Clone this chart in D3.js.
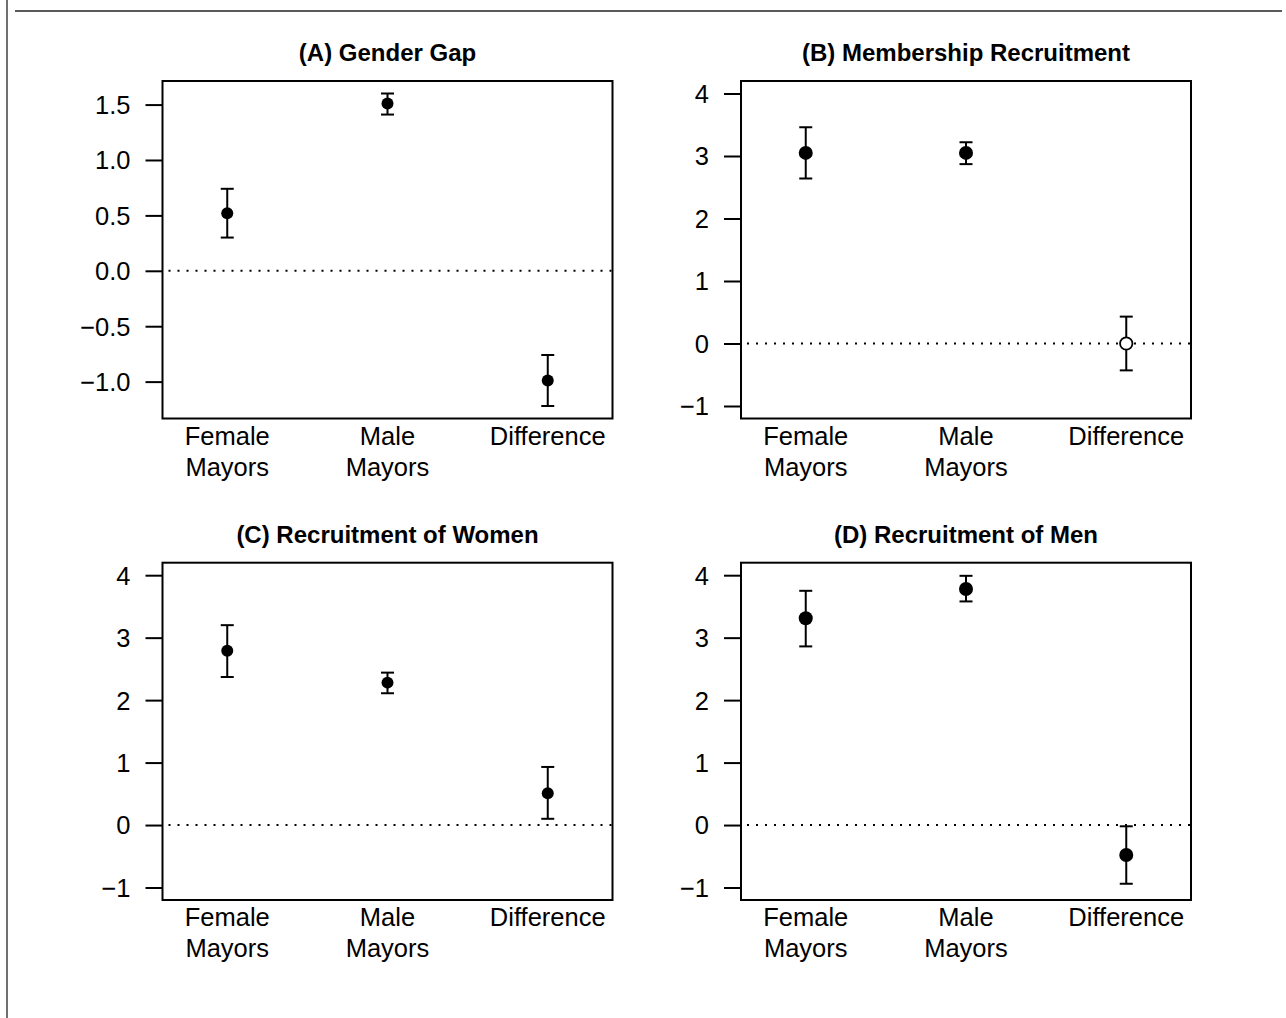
<!DOCTYPE html>
<html>
<head>
<meta charset="utf-8">
<script src="https://cdn.jsdelivr.net/npm/d3@7"></script>
<style>
  html, body { margin: 0; padding: 0; background: #fff; }
  svg { display: block; }
  text { font-family: "Liberation Sans", Arial, Helvetica, sans-serif; fill: #000; }
</style>
</head>
<body>
<svg id="chart" width="1286" height="1018"></svg>
<script>
// Group labels along the x axis (two lines each)
const categories = [["Female", "Mayors"], ["Male", "Mayors"], ["Difference"]];
const categoryIndex = [1, 2, 3];

// Panel titles
const panelTitles = [
  "(A) Gender Gap",
  "(B) Membership Recruitment",
  "(C) Recruitment of Women",
  "(D) Recruitment of Men"
];

// Point estimates and 95% confidence bounds per panel
const gapEst   = [0.52, 1.51, -0.99];
const gapLow   = [0.30, 1.41, -1.22];
const gapHigh  = [0.74, 1.60, -0.76];

const memberEst  = [3.05, 3.05, 0.00];
const memberLow  = [2.64, 2.87, -0.43];
const memberHigh = [3.46, 3.22, 0.43];

const womenEst  = [2.79, 2.28, 0.51];
const womenLow  = [2.37, 2.11, 0.10];
const womenHigh = [3.20, 2.44, 0.93];

const menEst  = [3.31, 3.78, -0.48];
const menLow  = [2.86, 3.58, -0.94];
const menHigh = [3.75, 3.99, -0.02];

// Whether the interval excludes zero (filled) or not (open)
const memberSignificant = [true, true, false];
const allSignificant = [true, true, true];

// Y-axis ticks
const gapTicks = [1.5, 1.0, 0.5, 0.0, -0.5, -1.0];
const gapTickLabels = ["1.5", "1.0", "0.5", "0.0", "\u22120.5", "\u22121.0"];
const countTicks = [4, 3, 2, 1, 0, -1];
const countTickLabels = ["4", "3", "2", "1", "0", "\u22121"];

// Axis limits before the usual 4% padding
const xLimits = [0.7, 3.3];
const countLimits = [-1, 4];

const panels = [
  { title: panelTitles[0], est: gapEst, low: gapLow, high: gapHigh, sig: allSignificant,
    ticks: gapTicks, tickLabels: gapTickLabels, ylim: null,
    box: { left: 162.5, right: 612.5, top: 81, bottom: 418.5 }, r: 6 },
  { title: panelTitles[1], est: memberEst, low: memberLow, high: memberHigh, sig: memberSignificant,
    ticks: countTicks, tickLabels: countTickLabels, ylim: countLimits,
    box: { left: 741, right: 1191, top: 81, bottom: 418.5 }, r: 7 },
  { title: panelTitles[2], est: womenEst, low: womenLow, high: womenHigh, sig: allSignificant,
    ticks: countTicks, tickLabels: countTickLabels, ylim: countLimits,
    box: { left: 162.5, right: 612.5, top: 562.7, bottom: 900 }, r: 6 },
  { title: panelTitles[3], est: menEst, low: menLow, high: menHigh, sig: allSignificant,
    ticks: countTicks, tickLabels: countTickLabels, ylim: countLimits,
    box: { left: 741, right: 1191, top: 562.7, bottom: 900 }, r: 7 }
];

const svg = d3.select("#chart");

// Page frame: rule under the heading and the left margin line
svg.append("line").attr("x1", 15).attr("x2", 1282).attr("y1", 11).attr("y2", 11)
  .attr("stroke", "#222").attr("stroke-width", 1.6);
svg.append("line").attr("x1", 7).attr("x2", 7).attr("y1", 0).attr("y2", 1018)
  .attr("stroke", "#333").attr("stroke-width", 1.4);

function pad(lim) {
  const d = (lim[1] - lim[0]) * 0.04;
  return [lim[0] - d, lim[1] + d];
}

const fontSize = 25.5;

panels.forEach(p => {
  const b = p.box;
  const ylim = p.ylim || [d3.min(p.low), d3.max(p.high)];
  const x = d3.scaleLinear().domain(pad(xLimits)).range([b.left, b.right]);
  const y = d3.scaleLinear().domain(pad(ylim)).range([b.bottom, b.top]);

  const g = svg.append("g");

  // Reference line at zero
  g.append("line")
    .attr("x1", b.left).attr("x2", b.right)
    .attr("y1", y(0)).attr("y2", y(0))
    .attr("stroke", "#000").attr("stroke-width", 2)
    .attr("stroke-dasharray", "2,7").attr("stroke-dashoffset", -6);

  // Y axis
  const axis = d3.axisLeft(y)
    .tickValues(p.ticks)
    .tickFormat((d, i) => p.tickLabels[i])
    .tickSize(17)
    .tickPadding(15);
  const ag = g.append("g").attr("transform", `translate(${b.left},0)`).call(axis);
  ag.select(".domain").remove();
  ag.selectAll(".tick line").attr("stroke", "#000").attr("stroke-width", 2);
  ag.selectAll(".tick text")
    .attr("font-size", fontSize)
    .attr("font-family", "Liberation Sans, Arial, sans-serif")
    .attr("fill", "#000")
    .attr("dy", "0.35em");

  // Category labels
  const xl = g.selectAll("text.cat").data(categories).enter().append("text")
    .attr("class", "cat")
    .attr("x", (d, i) => x(categoryIndex[i]))
    .attr("y", b.bottom + 26)
    .attr("text-anchor", "middle")
    .attr("font-size", fontSize);
  xl.selectAll("tspan").data(d => d).enter().append("tspan")
    .attr("x", function () { return d3.select(this.parentNode).attr("x"); })
    .attr("dy", (d, i) => i === 0 ? 0 : 31)
    .text(d => d);

  // Error bars
  const bars = g.selectAll("g.bar").data(categoryIndex).enter().append("g");
  bars.append("line")
    .attr("x1", d => x(d)).attr("x2", d => x(d))
    .attr("y1", (d, i) => y(p.low[i])).attr("y2", (d, i) => y(p.high[i]))
    .attr("stroke", "#000").attr("stroke-width", 2);
  [p.low, p.high].forEach(bound => {
    bars.append("line")
      .attr("x1", d => x(d) - 6.5).attr("x2", d => x(d) + 6.5)
      .attr("y1", (d, i) => y(bound[i])).attr("y2", (d, i) => y(bound[i]))
      .attr("stroke", "#000").attr("stroke-width", 2);
  });

  // Point estimates
  g.selectAll("circle").data(categoryIndex).enter().append("circle")
    .attr("cx", d => x(d))
    .attr("cy", (d, i) => y(p.est[i]))
    .attr("r", (d, i) => p.sig[i] ? p.r : p.r - 0.8)
    .attr("fill", (d, i) => p.sig[i] ? "#000" : "#fff")
    .attr("stroke", "#000")
    .attr("stroke-width", (d, i) => p.sig[i] ? 0 : 1.8);

  // Plot box
  g.append("rect")
    .attr("x", b.left).attr("y", b.top)
    .attr("width", b.right - b.left).attr("height", b.bottom - b.top)
    .attr("fill", "none").attr("stroke", "#000").attr("stroke-width", 2);

  // Title
  g.append("text")
    .attr("x", (b.left + b.right) / 2)
    .attr("y", b.top - 20)
    .attr("text-anchor", "middle")
    .attr("font-size", 24)
    .attr("font-weight", "bold")
    .text(p.title);
});
</script>
</body>
</html>
